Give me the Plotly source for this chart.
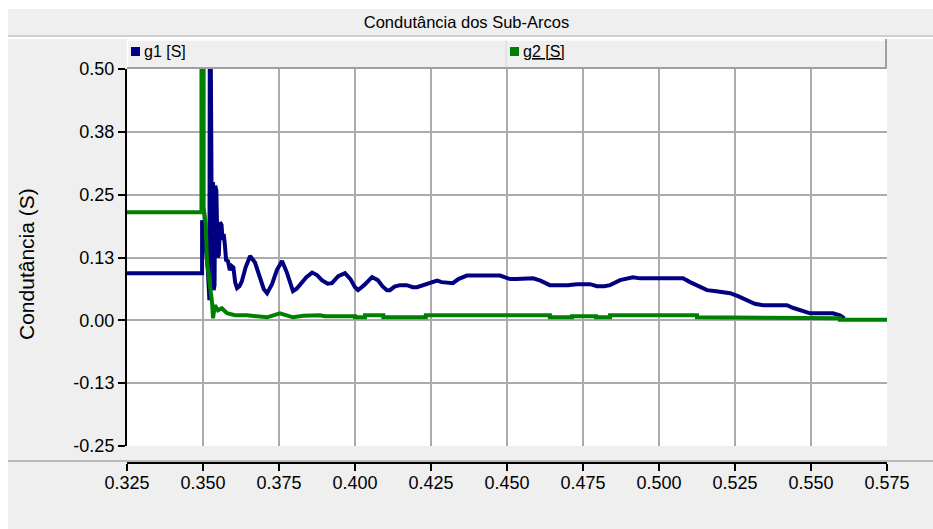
import plotly.graph_objects as go

# ---- data -------------------------------------------------------------
tempo_g1 = [0.3250, 0.3497, 0.3497, 0.3507, 0.3516, 0.3521, 0.3523, 0.3528, 0.3533, 0.3535,
            0.3538, 0.3540, 0.3544, 0.3548, 0.3552, 0.3556, 0.3561, 0.3564, 0.3568, 0.3572,
            0.3576, 0.3582, 0.3588, 0.3594, 0.3600, 0.3606, 0.3612, 0.3620, 0.3628, 0.3640,
            0.3655, 0.3671, 0.3688, 0.3700, 0.3711, 0.3727, 0.3743, 0.3760, 0.3776, 0.3788,
            0.3796, 0.3808, 0.3819, 0.3840, 0.3859, 0.3875, 0.3891, 0.3910, 0.3924, 0.3945,
            0.3967, 0.3985, 0.4000, 0.4010, 0.4030, 0.4056, 0.4075, 0.4090, 0.4105, 0.4115,
            0.4130, 0.4148, 0.4170, 0.4190, 0.4204, 0.4225, 0.4250, 0.4270, 0.4285, 0.4305,
            0.4322, 0.4340, 0.4368, 0.4477, 0.4490, 0.4510, 0.4530, 0.4560, 0.4586, 0.4610,
            0.4630, 0.4641, 0.4700, 0.4730, 0.4773, 0.4796, 0.4820, 0.4839, 0.4872, 0.4914,
            0.4938, 0.5079, 0.5102, 0.5130, 0.5158, 0.5188, 0.5234, 0.5260, 0.5289, 0.5315,
            0.5342, 0.5421, 0.5440, 0.5464, 0.5497, 0.5572, 0.5595, 0.5610]
g1 = [0.0935, 0.0935, 0.199, 0.159, 0.100, 0.040, 0.800, 0.274, 0.272, 0.060,
      0.070, 0.268, 0.258, 0.125, 0.130, 0.195, 0.190, 0.160, 0.172, 0.150,
      0.120, 0.118, 0.100, 0.108, 0.105, 0.075, 0.064, 0.068, 0.078, 0.105,
      0.128, 0.115, 0.080, 0.062, 0.054, 0.072, 0.100, 0.118, 0.095, 0.070,
      0.058, 0.063, 0.072, 0.086, 0.095, 0.090, 0.080, 0.073, 0.074, 0.088,
      0.094, 0.082, 0.066, 0.060, 0.070, 0.086, 0.080, 0.068, 0.060, 0.060,
      0.067, 0.070, 0.070, 0.066, 0.066, 0.070, 0.075, 0.079, 0.076, 0.074,
      0.074, 0.082, 0.089, 0.089, 0.087, 0.082, 0.082, 0.0835, 0.0835, 0.079,
      0.072, 0.070, 0.070, 0.072, 0.072, 0.068, 0.068, 0.070, 0.080, 0.0855,
      0.0835, 0.0835, 0.076, 0.068, 0.060, 0.058, 0.054, 0.048, 0.040, 0.033,
      0.030, 0.030, 0.025, 0.020, 0.014, 0.014, 0.010, 0.004]

tempo_g2 = [0.3250, 0.3495, 0.3495, 0.3502, 0.3502, 0.3509, 0.3513, 0.3520, 0.3530, 0.3533,
            0.3539, 0.3549, 0.3562, 0.3579, 0.3605, 0.3645, 0.3711, 0.3753, 0.3796, 0.3830,
            0.3885, 0.3900, 0.4000, 0.4000, 0.4033, 0.4033, 0.4093, 0.4093, 0.4233, 0.4233,
            0.4641, 0.4641, 0.4714, 0.4714, 0.4793, 0.4793, 0.4839, 0.4839, 0.5125, 0.5125,
            0.5293, 0.5293, 0.5595, 0.5595, 0.5750]
g2 = [0.215, 0.215, 0.850, 0.850, 0.225, 0.190, 0.119, 0.086, 0.034, 0.004,
      0.030, 0.020, 0.024, 0.014, 0.010, 0.010, 0.006, 0.014, 0.006, 0.009,
      0.010, 0.008, 0.008, 0.006, 0.006, 0.010, 0.010, 0.006, 0.006, 0.010,
      0.010, 0.006, 0.006, 0.008, 0.008, 0.006, 0.006, 0.010, 0.010, 0.006,
      0.006, 0.004, 0.004, 0.001, 0.001]

x_ticks = [0.325, 0.350, 0.375, 0.400, 0.425, 0.450, 0.475, 0.500, 0.525, 0.550, 0.575]
y_ticks = [-0.25, -0.125, 0.0, 0.125, 0.25, 0.375, 0.50]
y_tick_text = ["-0.25", "-0.13", "0.00", "0.13", "0.25", "0.38", "0.50"]

title = "Condutância dos Sub-Arcos"
y_title = "Condutância (S)"
names = ["g1 [S]", "g2 [S]"]
colors = ["#000080", "#008000"]

# ---- geometry helpers (pixel -> paper) ---------------------------------
W, H = 933, 529
L, R, T, B = 127, 46, 69, 40
PW = W - L - R
PH = H - T - B


def px(xp):
    return (xp - L) / PW


def py(yp):
    return 1 - (yp - T) / PH


FONT = "Liberation Sans, Arial, sans-serif"
BG = "#efefef"

fig = go.Figure()
fig.add_trace(go.Scatter(x=tempo_g1, y=g1, mode="lines", name=names[0],
                         line=dict(color=colors[0], width=4), showlegend=False))
fig.add_trace(go.Scatter(x=tempo_g2, y=g2, mode="lines", name=names[1],
                         line=dict(color=colors[1], width=4), showlegend=False))

shapes = [
    # white outer frame strips
    dict(type="rect", xref="paper", yref="paper", x0=px(0), x1=px(W), y0=py(0), y1=py(9),
         fillcolor="white", line_width=0, layer="below"),
    dict(type="rect", xref="paper", yref="paper", x0=px(0), x1=px(8), y0=py(0), y1=py(H),
         fillcolor="white", line_width=0, layer="below"),
    # title band separator
    dict(type="line", xref="paper", yref="paper", x0=px(8), x1=px(W), y0=py(36), y1=py(36),
         line=dict(color="#c4c4c4", width=1.5)),
    dict(type="line", xref="paper", yref="paper", x0=px(8), x1=px(W), y0=py(38), y1=py(38),
         line=dict(color="white", width=2)),
    # legend panel
    dict(type="line", xref="paper", yref="paper", x0=px(127), x1=px(887), y0=py(40), y1=py(40),
         line=dict(color="white", width=1.5)),
    dict(type="line", xref="paper", yref="paper", x0=px(127.5), x1=px(127.5), y0=py(40), y1=py(68),
         line=dict(color="white", width=1.5)),
    dict(type="line", xref="paper", yref="paper", x0=px(506), x1=px(506), y0=py(40), y1=py(68),
         line=dict(color="#d6d6d6", width=1)),
    dict(type="line", xref="paper", yref="paper", x0=px(886), x1=px(886), y0=py(39), y1=py(69),
         line=dict(color="#a0a0a0", width=2)),
    dict(type="line", xref="paper", yref="paper", x0=px(127), x1=px(887), y0=py(68), y1=py(68),
         line=dict(color="#a0a0a0", width=2)),
    # legend swatches
    dict(type="rect", xref="paper", yref="paper", x0=px(131), x1=px(140), y0=py(47), y1=py(56),
         fillcolor=colors[0], line_width=0),
    dict(type="rect", xref="paper", yref="paper", x0=px(510), x1=px(519), y0=py(47), y1=py(56),
         fillcolor=colors[1], line_width=0),
    # separator above the x axis
    dict(type="line", xref="paper", yref="paper", x0=px(8), x1=px(W), y0=py(461), y1=py(461),
         line=dict(color="#a8a8a8", width=1.5)),
]

annotations = [
    dict(xref="paper", yref="paper", x=px(142), y=py(52), text=names[0], showarrow=False,
         xanchor="left", yanchor="middle", font=dict(family=FONT, size=16, color="black")),
    dict(xref="paper", yref="paper", x=px(521), y=py(52), text="<u>" + names[1] + "</u>",
         showarrow=False, xanchor="left", yanchor="middle",
         font=dict(family=FONT, size=16, color="black")),
    dict(xref="paper", yref="paper", x=px(26), y=py(264), text=y_title, showarrow=False,
         textangle=-90, xanchor="center", yanchor="middle",
         font=dict(family=FONT, size=21, color="black")),
]

fig.update_layout(
    width=W, height=H,
    margin=dict(l=L, r=R, t=T, b=B, pad=0),
    paper_bgcolor=BG, plot_bgcolor="white",
    showlegend=False,
    title=dict(text=title, x=0.5, xanchor="center", xref="container",
               y=1 - 22 / H, yanchor="middle", yref="container",
               font=dict(family=FONT, size=16.5, color="black")),
    shapes=shapes, annotations=annotations,
    xaxis=dict(range=[0.325, 0.575], tickvals=x_ticks, tickformat=".3f",
               anchor="free", position=(H - B - 463) / PH,
               showline=True, linecolor="black", linewidth=2,
               ticks="outside", ticklen=7, tickcolor="black", tickwidth=1.5,
               ticklabelstandoff=-4,
               showgrid=True, gridcolor="#ababab", gridwidth=2, zeroline=False,
               tickfont=dict(family=FONT, size=18, color="black")),
    yaxis=dict(range=[-0.25, 0.5], tickvals=y_ticks, ticktext=y_tick_text,
               domain=[(H - B - 446) / PH, 1],
               showline=True, linecolor="black", linewidth=2,
               ticks="outside", ticklen=7, tickcolor="black", tickwidth=1.5,
               showgrid=True, gridcolor="#ababab", gridwidth=2, zeroline=False,
               tickfont=dict(family=FONT, size=18, color="black")),
)

fig.write_html("out.html")
